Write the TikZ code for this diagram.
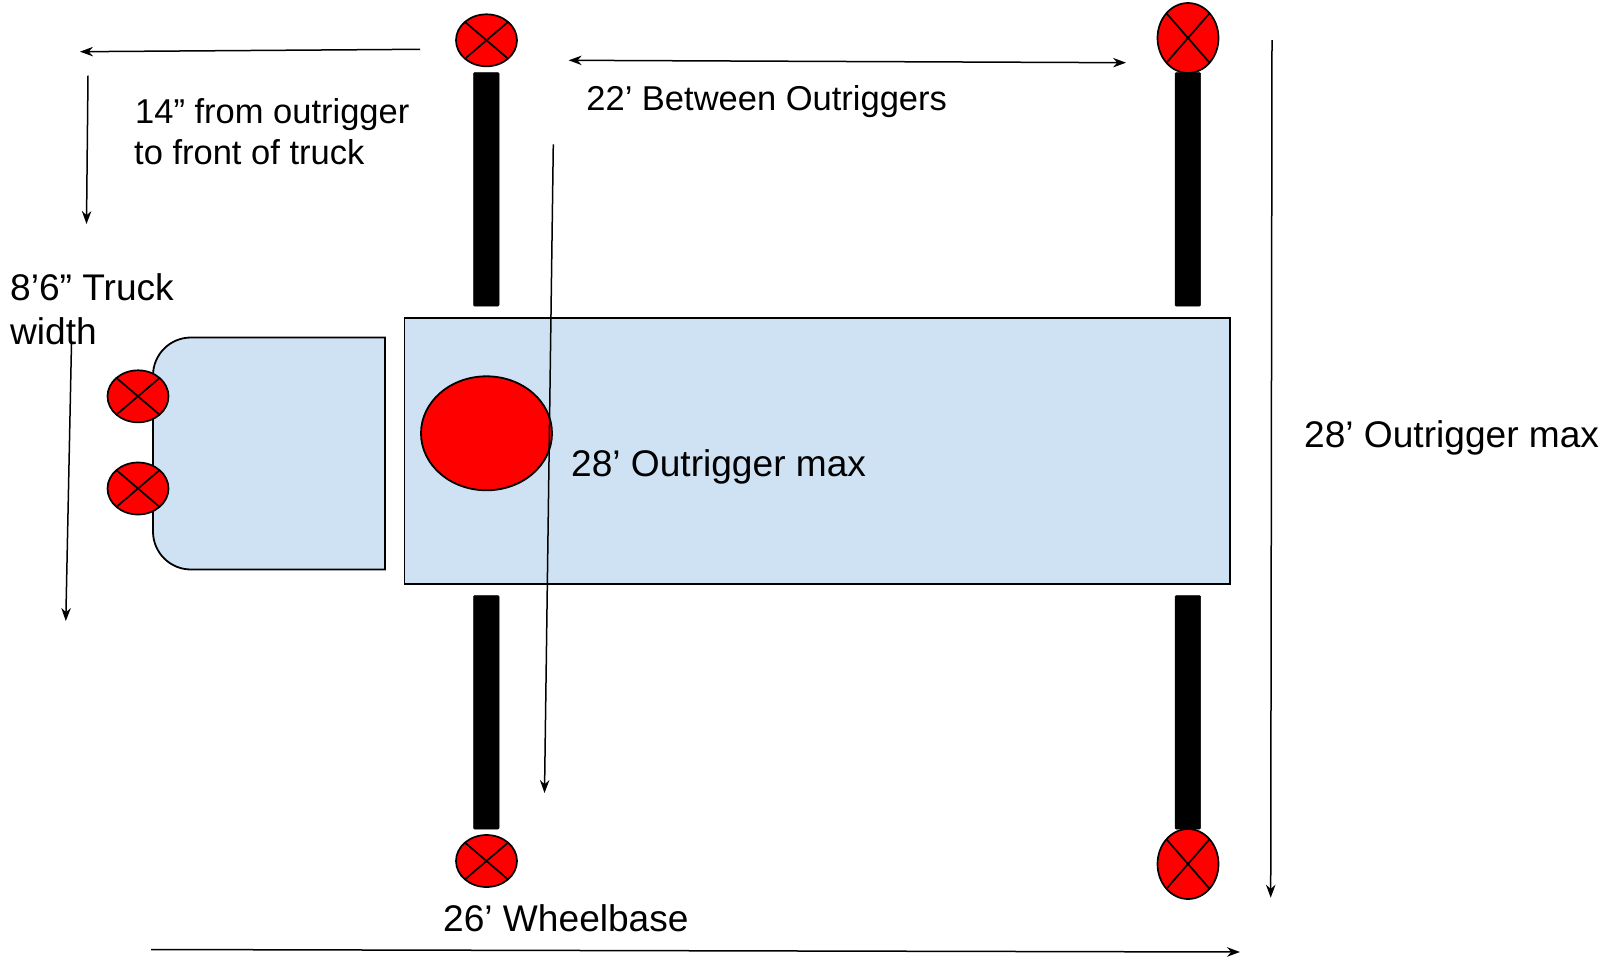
\documentclass[tikz,border=0pt]{standalone}
\usepackage{fontspec}
\setmainfont{Liberation Sans}
\usetikzlibrary{shapes.geometric,arrows.meta}
\definecolor{bodyblue}{HTML}{CFE2F3}
\tikzset{
  jack/.style={ellipse,draw=black,line width=1.7pt,fill=red,inner sep=0pt,minimum width=61pt,minimum height=#1,
    path picture={\draw[line width=1.7pt] (path picture bounding box.north west)--(path picture bounding box.south east)
      (path picture bounding box.north east)--(path picture bounding box.south west);}},
  jack/.default=52pt,
  padless/.style={rectangle,fill=black,draw=black,line width=.5pt,rounded corners=1pt,inner sep=0pt,minimum width=25.5pt,minimum height=233.5pt},
  dim/.style={draw=black,line width=1.5pt,-{Stealth[length=13pt,width=9.5pt]}},
  dimboth/.style={draw=black,line width=1.5pt,{Stealth[length=13pt,width=9.5pt]}-{Stealth[length=13pt,width=9.5pt]}},
  lbl/.style={inner sep=0pt,anchor=base west,font=\fontsize{37.1}{41}\selectfont},
  lblsm/.style={inner sep=0pt,anchor=base west,font=\fontsize{34.5}{41}\selectfont}
}
\begin{document}
\begin{tikzpicture}[x=1pt,y=-1pt]
\useasboundingbox (0,0) rectangle (1614,959);
% bodies
\node[rectangle,draw=black,line width=1.8pt,fill=bodyblue,inner sep=0pt,minimum width=825.5pt,minimum height=266.5pt] (bed) at (817.2,451) {};
\draw[line width=1.8pt,fill=bodyblue] (385,337.5) -- (191,337.5) .. controls (170,337.5) and (153,354.5) .. (153,375.5) -- (153,531.5) .. controls (153,552.5) and (170,569.5) .. (191,569.5) -- (385,569.5) -- cycle;
% outrigger bars
\node[padless] (barTL) at (486.25,189.3) {};
\node[padless] (barTR) at (1187.8,189.3) {};
\node[padless] (barBL) at (486.25,712.3) {};
\node[padless] (barBR) at (1187.8,712.3) {};
% jacks
\node[jack] (jackTL) at (486.5,40.3) {};
\node[jack=70pt] (jackTR) at (1188,38) {};
\node[jack] (jackBL) at (486.5,861) {};
\node[jack=70pt] (jackBR) at (1188,864) {};
\node[jack] (jackF1) at (138,396.3) {};
\node[jack] (jackF2) at (138,488.5) {};
\node[ellipse,draw=black,line width=1.8pt,fill=red,inner sep=0pt,minimum width=131pt,minimum height=114pt] (pivot) at (486.5,433.3) {};
% dimension end points
\coordinate (a1s) at (420,49.3); \coordinate (a1e) at (80,51.7);
\coordinate (a2s) at (88,75.7);  \coordinate (a2e) at (86.5,224);
\coordinate (a3s) at (568.7,60.3); \coordinate (a3e) at (1126,62.7);
\coordinate (a4s) at (71.5,343); \coordinate (a4e) at (65.8,621);
\coordinate (a5s) at (553.3,144.3); \coordinate (a5e) at (544.5,793);
\coordinate (a6s) at (1272,40); \coordinate (a6e) at (1270.7,897.7);
\coordinate (a7s) at (151,949.5); \coordinate (a7e) at (1240,952);
\draw[dim] (a1s) -- (a1e);
\draw[dim] (a2s) -- (a2e);
\draw[dimboth] (a3s) -- (a3e);
\draw[dim] (a5s) -- (a5e);
\draw[dim] (a6s) -- (a6e);
\draw[dim] (a7s) -- (a7e);
% labels
\node[lblsm] (t14a) at (135,123) {14” from outrigger};
\node[lblsm] (t14b) at (134,164) {to front of truck};
\node[lblsm] (t22) at (586.2,110) {22’ Between Outriggers};
\node[lbl] (t86a) at (10,300.7) {8’6” Truck};
\node[lbl] (t86b) at (10,344.5) {width};
\node[lbl] (t28c) at (571,476) {28’ Outrigger max};
\node[lbl] (t28r) at (1304,447.2) {28’ Outrigger max};
\node[lbl] (t26) at (443,931.5) {26’ Wheelbase};
\draw[dim] (a4s) -- (a4e);
\end{tikzpicture}
\end{document}
